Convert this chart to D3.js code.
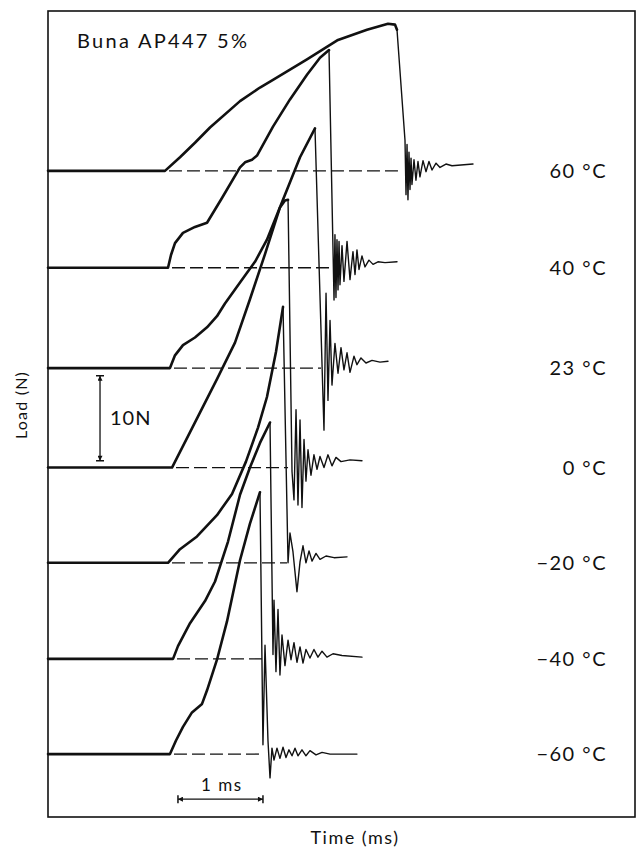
<!DOCTYPE html>
<meta charset="utf-8">
<style>

body {
  margin: 0;
  background: #fff;
}

text {
  font-family: Lato, "DejaVu Sans", sans-serif;
  fill: #111;
}

.trace {
  fill: none;
  stroke: #111;
  stroke-linejoin: round;
  stroke-linecap: round;
}

</style>
<svg></svg>
<script src="https://d3js.org/d3.v7.min.js"></script>
<script>

var width = 638,
    height = 849;

var temps = ["60 °C", "40 °C", "23 °C", "0 °C", "−20 °C", "−40 °C", "−60 °C"];

// baseline of each trace, in N on the stacked load axis
var baselines = [76.0, 64.6, 52.8, 41.1, 29.9, 18.6, 7.4];

// where the dashed zero line stops (ms)
var dashEnds = [4.141, 3.353, 3.212, 2.824, 2.812, 2.54, 2.529];

// [time (ms), load above baseline (N)]
var rise60 = [[0,0],[1.376,0],[1.553,1.6],[1.729,3.3],[1.906,5.1],[2.259,8.2],[2.494,9.8],[2.647,10.7],[3.047,13.1],[3.412,15.4],[3.753,16.6],[4.0,17.3],[4.082,17.2],[4.106,16.6]];
var fall60 = [[4.106,16.6],[4.2,3.6],[4.212,-2.8],[4.224,3.1],[4.235,-3.4],[4.247,2.2],[4.259,-2.2],[4.271,1.5],[4.282,-1.6],[4.306,1.3],[4.329,-1.1],[4.353,1.1],[4.376,-0.7],[4.412,1.2],[4.447,-0.1],[4.482,1.1],[4.518,0.1],[4.565,0.9],[4.612,0.4],[4.682,0.8],[4.753,0.6],[5.0,0.8]];

var rise40 = [[0,0],[1.412,0],[1.447,1.5],[1.494,2.9],[1.588,4.1],[1.729,4.8],[1.871,5.3],[2.047,8.2],[2.259,11.8],[2.318,12.4],[2.4,12.7],[2.459,13.2],[2.647,16.6],[2.847,19.8],[3.047,22.7],[3.2,24.7],[3.306,25.6]];
var fall40 = [[3.306,25.6],[3.365,-3.8],[3.376,3.9],[3.388,-3.5],[3.4,3.3],[3.412,-2.6],[3.424,3.1],[3.435,-2.0],[3.459,2.6],[3.482,-1.6],[3.518,3.1],[3.553,-1.4],[3.588,1.9],[3.612,-0.8],[3.635,2.1],[3.659,-0.2],[3.694,1.4],[3.729,0.1],[3.776,0.9],[3.824,0.4],[3.882,0.7],[3.965,0.6],[4.106,0.7]];

var rise23 = [[0,0],[1.435,0],[1.494,1.5],[1.588,2.7],[1.729,3.6],[1.871,4.8],[1.988,6.1],[2.082,7.6],[2.282,10.4],[2.435,12.5],[2.576,15.1],[2.788,20.4],[2.965,24.8],[3.141,28.2]];
var fall23 = [[3.141,28.2],[3.247,-7.3],[3.271,8.8],[3.294,-3.8],[3.318,5.6],[3.341,-2.0],[3.376,2.9],[3.412,-0.6],[3.447,2.4],[3.482,-0.2],[3.518,1.8],[3.553,-0.5],[3.6,1.4],[3.635,0.4],[3.682,1.2],[3.741,0.6],[3.812,0.9],[3.906,0.7],[4.0,0.8]];

var rise0 = [[0,0],[1.459,0],[1.988,10.4],[2.2,14.7],[2.376,19.8],[2.553,25.1],[2.729,30.6],[2.788,31.4],[2.824,31.5]];
var fall0 = [[2.824,31.5],[2.871,-0.5],[2.894,-3.8],[2.918,6.8],[2.941,-4.4],[2.965,5.6],[2.988,-4.7],[3.012,3.3],[3.035,-1.6],[3.059,2.1],[3.094,-0.9],[3.129,1.5],[3.165,-0.2],[3.2,1.3],[3.247,0],[3.294,1.5],[3.341,0.2],[3.388,1.2],[3.447,0.7],[3.553,0.9],[3.694,0.8]];

var riseM20 = [[0,0],[1.412,0],[1.553,1.6],[1.753,3.1],[1.988,5.6],[2.165,8.1],[2.329,11.9],[2.471,15.9],[2.576,19.5],[2.682,24.8],[2.765,30.1]];
var fallM20 = [[2.765,30.1],[2.824,0],[2.847,3.5],[2.882,1.3],[2.929,-3.4],[2.965,0.1],[3.0,2.0],[3.035,0],[3.071,1.4],[3.106,0.2],[3.153,1.1],[3.2,0.4],[3.271,0.8],[3.365,0.6],[3.518,0.7]];

var riseM40 = [[0,0],[1.471,0],[1.529,1.5],[1.671,4.2],[1.847,6.8],[1.965,9.1],[2.118,13.8],[2.259,19.3],[2.376,22.5],[2.494,25.4],[2.612,27.8]];
var fallM40 = [[2.612,27.8],[2.647,0.5],[2.659,6.9],[2.682,-1.5],[2.706,5.8],[2.729,-1.9],[2.753,2.8],[2.788,-0.8],[2.824,2.2],[2.859,-0.1],[2.894,1.9],[2.929,-0.4],[2.965,1.4],[3.0,-0.5],[3.035,1.1],[3.082,0.1],[3.129,1.1],[3.176,0.2],[3.224,0.9],[3.282,0.2],[3.353,0.6],[3.459,0.4],[3.694,0.2]];

var riseM60 = [[0,0],[1.435,0],[1.506,1.6],[1.588,3.2],[1.694,4.9],[1.753,5.4],[1.812,5.9],[1.871,7.5],[1.988,11.1],[2.106,15.6],[2.259,22.8],[2.376,27.1],[2.494,30.8]];
var fallM60 = [[2.494,30.8],[2.529,1.1],[2.553,12.8],[2.588,1.6],[2.612,-2.8],[2.635,0.7],[2.659,-0.7],[2.694,0.7],[2.729,-0.5],[2.765,0.8],[2.8,-0.4],[2.835,0.5],[2.871,-0.2],[2.906,0.7],[2.941,-0.2],[2.988,0.5],[3.035,-0.2],[3.082,0.4],[3.153,-0.1],[3.224,0.2],[3.318,0],[3.635,0]];

var rises = [rise60, rise40, rise23, rise0, riseM20, riseM40, riseM60],
    falls = [fall60, fall40, fall23, fall0, fallM20, fallM40, fallM60];

var x = d3.scaleLinear()
    .domain([0, 6.906])
    .range([48, 635]);

var y = d3.scaleLinear()
    .domain([0, 94.8])
    .range([817, 11]);

var svg = d3.select("svg")
    .attr("width", width)
    .attr("height", height);

svg.append("rect")
    .attr("x", x.range()[0])
    .attr("y", y.range()[1])
    .attr("width", x.range()[1] - x.range()[0])
    .attr("height", y.range()[0] - y.range()[1])
    .attr("fill", "none")
    .attr("stroke", "#111")
    .attr("stroke-width", 1.6);

var defs = svg.append("defs");
defs.append("marker")
    .attr("id", "arrow")
    .attr("viewBox", "0 0 10 10")
    .attr("refX", 10)
    .attr("refY", 5)
    .attr("markerWidth", 7)
    .attr("markerHeight", 5)
    .attr("markerUnits", "userSpaceOnUse")
    .attr("orient", "auto-start-reverse")
  .append("path")
    .attr("d", "M0,0L10,5L0,10z")
    .attr("fill", "#111");

var traces = svg.append("g");

temps.forEach(function(label, i) {
  var base = baselines[i];
  var line = d3.line()
      .x(function(d) { return x(d[0]); })
      .y(function(d) { return y(base + d[1]); });

  var onset = rises[i][1][0];

  traces.append("line")
      .attr("x1", x(onset) + 4)
      .attr("x2", x(dashEnds[i]))
      .attr("y1", y(base))
      .attr("y2", y(base))
      .attr("stroke", "#111")
      .attr("stroke-width", 1.3)
      .attr("stroke-dasharray", "13,5");

  traces.append("path")
      .datum(rises[i])
      .attr("class", "trace")
      .attr("stroke-width", 2.6)
      .attr("d", line);

  traces.append("path")
      .datum(falls[i])
      .attr("class", "trace")
      .attr("stroke-width", 1.4)
      .attr("d", line);

  svg.append("text")
      .attr("x", 607)
      .attr("y", y(base))
      .attr("dy", "0.36em")
      .attr("text-anchor", "end")
      .attr("font-size", 20)
      .attr("letter-spacing", 1.5)
      .text(label);
});

svg.append("text")
    .attr("x", 77)
    .attr("y", 48)
    .attr("font-size", 20)
    .attr("textLength", 170)
    .attr("lengthAdjust", "spacing")
    .text("Buna AP447 5%");

// 10 N scale bar
var barX = x(0.612);
svg.append("line")
    .attr("x1", barX).attr("x2", barX)
    .attr("y1", y(41.9)).attr("y2", y(51.9))
    .attr("stroke", "#111")
    .attr("stroke-width", 1.3)
    .attr("marker-start", "url(#arrow)")
    .attr("marker-end", "url(#arrow)");
[41.9, 51.9].forEach(function(v) {
  svg.append("line")
      .attr("x1", barX - 4).attr("x2", barX + 4)
      .attr("y1", y(v)).attr("y2", y(v))
      .attr("stroke", "#111")
      .attr("stroke-width", 1.5);
});
svg.append("text")
    .attr("x", barX + 10)
    .attr("y", y(46.9))
    .attr("dy", "0.36em")
    .attr("font-size", 20)
    .attr("letter-spacing", 1)
    .text("10N");

// 1 ms scale bar
var barY = y(2.1);
svg.append("line")
    .attr("x1", x(1.529)).attr("x2", x(2.529))
    .attr("y1", barY).attr("y2", barY)
    .attr("stroke", "#111")
    .attr("stroke-width", 1.3)
    .attr("marker-start", "url(#arrow)")
    .attr("marker-end", "url(#arrow)");
[1.529, 2.529].forEach(function(t) {
  svg.append("line")
      .attr("x1", x(t)).attr("x2", x(t))
      .attr("y1", barY - 4).attr("y2", barY + 4)
      .attr("stroke", "#111")
      .attr("stroke-width", 1.5);
});
svg.append("text")
    .attr("x", x(1.8))
    .attr("y", barY - 14)
    .attr("dy", "0.36em")
    .attr("font-size", 17)
    .attr("letter-spacing", 1.5)
    .text("1 ms");

svg.append("text")
    .attr("x", 355)
    .attr("y", 838)
    .attr("dy", "0.36em")
    .attr("text-anchor", "middle")
    .attr("font-size", 18)
    .attr("letter-spacing", 1.5)
    .text("Time (ms)");

svg.append("text")
    .attr("transform", "translate(21,405) rotate(-90)")
    .attr("dy", "0.36em")
    .attr("text-anchor", "middle")
    .attr("font-size", 16)
    .attr("letter-spacing", 1.2)
    .text("Load (N)");

</script>
